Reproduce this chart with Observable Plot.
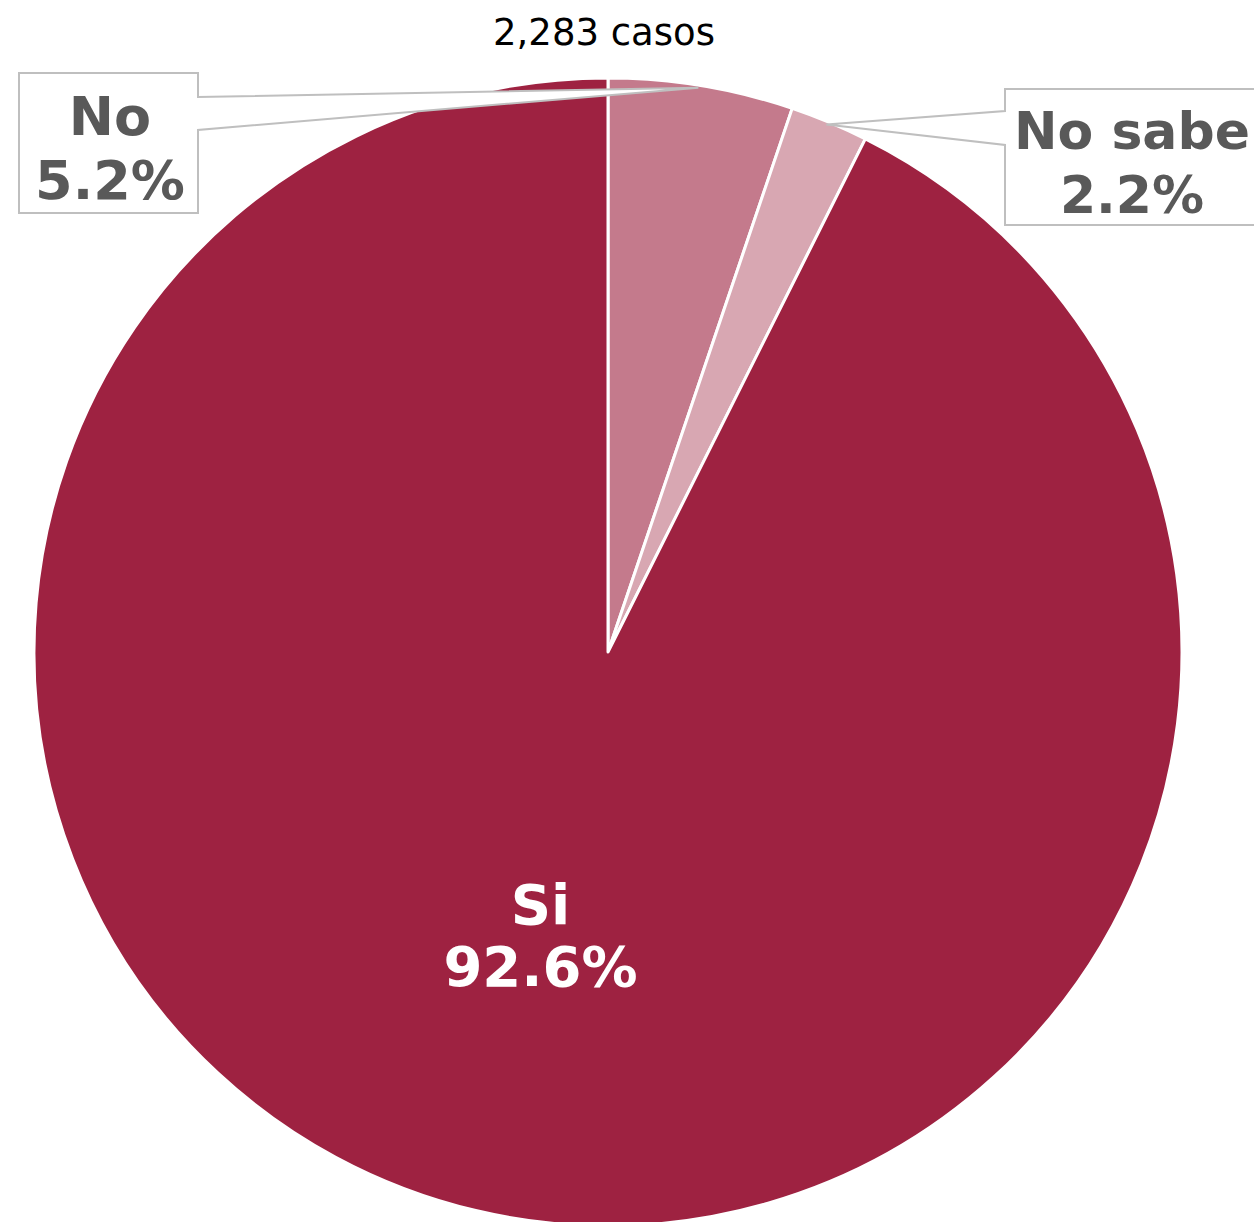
<!DOCTYPE html>
<html>
<head>
<meta charset="utf-8">
<script src="https://cdn.jsdelivr.net/npm/d3@7"></script>
<script src="https://cdn.jsdelivr.net/npm/@observablehq/plot@0.6"></script>
<style>
  html, body { margin: 0; padding: 0; background: #fff; }
  #chart { width: 1254px; height: 1222px; overflow: hidden; }
</style>
</head>
<body>
<div id="chart"></div>
<script>
const categories = ["No", "No sabe", "Si"];
const values = [5.2, 2.2, 92.6];
const colors = ["#C47A8C", "#D8A7B2", "#9E2241"];
const totalLabel = "2,283 casos";

const data = categories.map((c, i) => ({category: c, value: values[i], color: colors[i]}));
const pie = d3.pie().sort(null).value(d => d.value)(data);
const fmt = v => v.toFixed(1) + "%";

const W = 1254, H = 1222;
const font = "'DejaVu Sans', Verdana, sans-serif";

function pieMark(index, scales) {
  const {x, y} = scales;
  const cx = x(0), cy = y(0), R = x(1) - x(0);
  const g = d3.create("svg:g").attr("transform", `translate(${cx},${cy})`);
  const arc = d3.arc().innerRadius(0).outerRadius(R);
  g.selectAll("path").data(pie).join("path")
    .attr("d", arc)
    .attr("fill", d => d.data.color)
    .attr("stroke", "#fff")
    .attr("stroke-width", 3)
    .attr("stroke-linejoin", "round");
  return g.node();
}

// Callout boxes for small slices (layout in pixel space)
const callouts = {
  "No":      {x0: 19, x1: 198, y0: 73, y1: 213, side: "right", b0: 97, b1: 130, tx: 110, size: 54},
  "No sabe": {x0: 1005, x1: 1275, y0: 89, y1: 225, side: "left", b0: 111, b1: 145, tx: 1132, size: 52}
};

function calloutMark(index, scales) {
  const {x, y} = scales;
  const cx = x(0), cy = y(0), R = x(1) - x(0);
  const g = d3.create("svg:g");
  for (const p of pie) {
    const c = callouts[p.data.category];
    if (!c) continue;
    const a = (p.startAngle + p.endAngle) / 2;
    const tx = cx + R * Math.sin(a) - 3, ty = cy - R * Math.cos(a) + 2;
    let pts;
    if (c.side === "right") {
      pts = [[c.x0, c.y0], [c.x1, c.y0], [c.x1, c.b0], [tx, ty], [c.x1, c.b1], [c.x1, c.y1], [c.x0, c.y1]];
    } else {
      pts = [[c.x0, c.y0], [c.x1, c.y0], [c.x1, c.y1], [c.x0, c.y1], [c.x0, c.b1], [tx, ty], [c.x0, c.b0]];
    }
    g.append("path")
      .attr("d", "M" + pts.map(q => q.join(",")).join("L") + "Z")
      .attr("fill", "#fff")
      .attr("stroke", "#BFBFBF")
      .attr("stroke-width", 2);
    const ty0 = (c.y0 + c.y1) / 2;
    const t = g.append("text")
      .attr("text-anchor", "middle")
      .attr("font-family", font)
      .attr("font-weight", "bold")
      .attr("font-size", c.size)
      .attr("fill", "#595959");
    t.append("tspan").attr("x", c.tx).attr("y", ty0 - 8).text(p.data.category);
    t.append("tspan").attr("x", c.tx).attr("y", ty0 + 56).text(fmt(p.data.value));
  }
  return g.node();
}

function insideLabel(index, scales) {
  const {x, y} = scales;
  const cx = x(0), cy = y(0), R = x(1) - x(0);
  const g = d3.create("svg:g");
  for (const p of pie) {
    if (callouts[p.data.category]) continue;
    const a = (p.startAngle + p.endAngle) / 2;
    const lx = cx + 0.51 * R * Math.sin(a), ly = cy - 0.51 * R * Math.cos(a);
    const t = g.append("text")
      .attr("text-anchor", "middle")
      .attr("font-family", font)
      .attr("font-weight", "bold")
      .attr("font-size", 56)
      .attr("fill", "#fff");
    t.append("tspan").attr("x", lx).attr("y", ly - 13).text(p.data.category);
    t.append("tspan").attr("x", lx).attr("y", ly + 49).text(fmt(p.data.value));
  }
  return g.node();
}

function titleMark() {
  return d3.create("svg:text")
    .attr("x", 604).attr("y", 45)
    .attr("text-anchor", "middle")
    .attr("font-family", font)
    .attr("font-size", 37)
    .attr("fill", "#000")
    .text(totalLabel).node();
}

const plot = Plot.plot({
  width: W,
  height: H,
  margin: 0,
  style: {background: "#fff", overflow: "hidden"},
  x: {domain: [-1, 1], range: [34, 1182], axis: null},
  y: {domain: [-1, 1], range: [1226, 78], axis: null},
  marks: [pieMark, calloutMark, insideLabel, titleMark]
});
document.getElementById("chart").appendChild(plot);
</script>
</body>
</html>
